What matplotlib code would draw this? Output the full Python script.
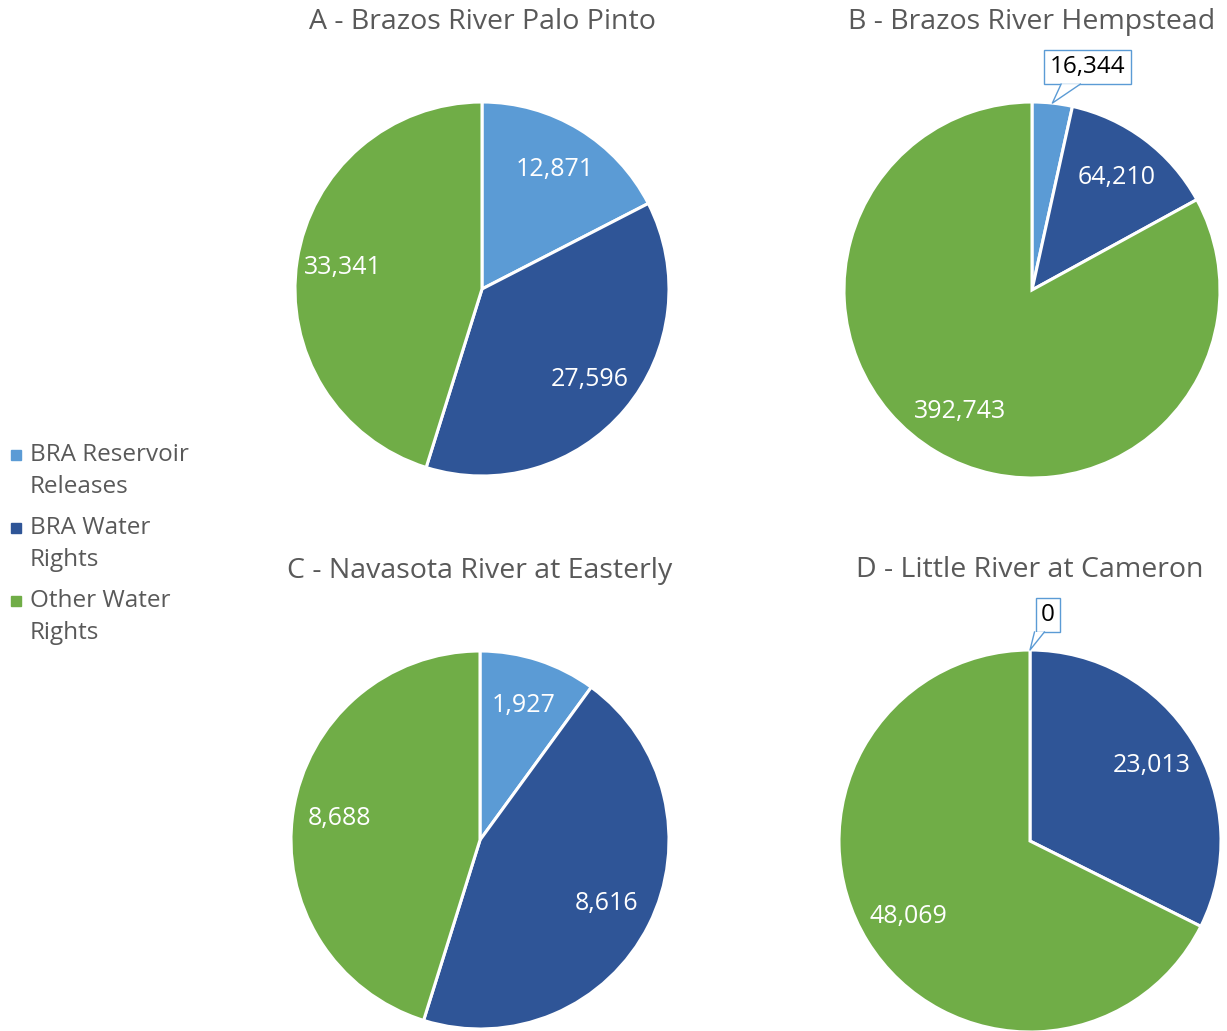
import numpy as np
import matplotlib
matplotlib.use('Agg')
import matplotlib.pyplot as plt
import matplotlib.transforms as mtransforms
from matplotlib.patches import Rectangle, Polygon
from matplotlib.lines import Line2D

# data
series = ['BRA Reservoir\nReleases', 'BRA Water\nRights', 'Other Water\nRights']
colors = ['#5B9BD5', '#2F5597', '#70AD47']
titles = ['A - Brazos River Palo Pinto', 'B - Brazos River Hempstead',
          'C - Navasota River at Easterly', 'D - Little River at Cameron']
vals_a = [12871, 27596, 33341]
vals_b = [16344, 64210, 392743]
vals_c = [1927, 8616, 8688]
vals_d = [0, 23013, 48069]
all_vals = [vals_a, vals_b, vals_c, vals_d]

# layout (pixels): pie centre x, centre y (from top), radius
W, H = 1227, 1031
centres = [(482, 289, 187), (1032, 290, 188), (480, 840, 189), (1030, 841, 191)]

plt.rcParams['font.family'] = ['Open Sans', 'DejaVu Sans']
grey = '#595959'

fig = plt.figure(figsize=(W / 100, H / 100), dpi=100)

for (cx, cy, r), vals, title in zip(centres, all_vals, titles):
    ax = fig.add_axes([(cx - r) / W, (H - cy - r) / H, 2 * r / W, 2 * r / H])
    wedges, _ = ax.pie(vals, colors=colors, startangle=90, counterclock=False,
                       radius=1, wedgeprops=dict(edgecolor='white', linewidth=2.2))
    ax.set_xlim(-1, 1)
    ax.set_ylim(-1, 1)
    ax.axis('off')
    total = sum(vals)
    for w, v in zip(wedges, vals):
        mid = np.deg2rad((w.theta1 + w.theta2) / 2)
        x, y = np.cos(mid), np.sin(mid)
        if v / total < 0.05:
            # small slice: boxed callout above the pie, offsets in px
            dx, dy = (18, 35) if v == 0 else (35, 36)
            ax.annotate(f'{v:,}', xy=(x, y), xytext=(dx * 0.72, dy * 0.72),
                        textcoords='offset points', ha='center', va='center',
                        fontsize=17.5, color='black', zorder=4,
                        bbox=dict(boxstyle='square,pad=0.22', fc='white',
                                  ec=colors[0], lw=1))
            # callout pointer
            trans = fig.dpi_scale_trans + mtransforms.ScaledTranslation(x, y, ax.transData)
            by = dy - 17
            tri = np.array([(0.25 * dx, by), (0, 0), (0.8 * dx, by)]) / 100
            ax.add_patch(Polygon(tri, closed=True, transform=trans, fc='white',
                                 ec='none', zorder=5, clip_on=False))
            ax.add_line(Line2D(tri[:, 0], tri[:, 1], transform=trans,
                               color=colors[0], lw=1, zorder=6, clip_on=False))
        else:
            ax.text(0.75 * x, 0.75 * y, f'{v:,}', ha='center', va='center',
                    fontsize=18, color='white')
    ax.annotate(title, xy=(0.5, 1), xycoords='axes fraction', xytext=(0, 57.6),
                textcoords='offset points', ha='center', va='center',
                fontsize=20.5, color=grey)

# legend, drawn by hand so the square sits on the first line
for i, (lab, c) in enumerate(zip(series, colors)):
    yc = 455 + i * 73
    fig.add_artist(Rectangle((11 / W, (H - yc - 5) / H), 10 / W, 10 / H,
                             transform=fig.transFigure, color=c))
    fig.text(30 / W, (H - yc + 12) / H, lab, ha='left', va='top', fontsize=17.5,
             color=grey, linespacing=1.42, transform=fig.transFigure)

fig.savefig('out.png', dpi=100)
